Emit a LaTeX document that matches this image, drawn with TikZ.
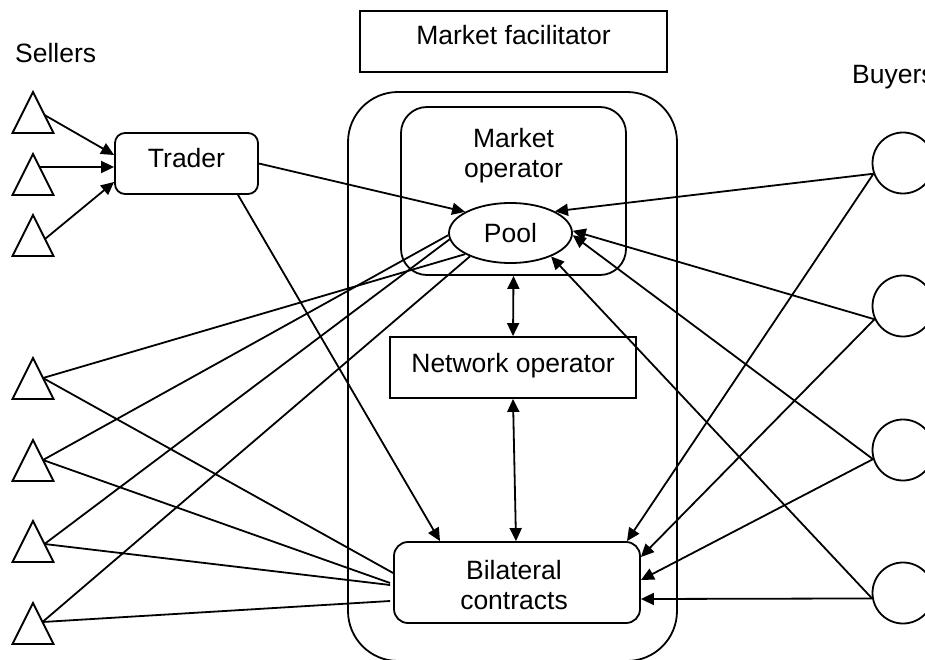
\documentclass[tikz,border=0pt]{standalone}
\usepackage{fontspec}
\setmainfont{Liberation Sans}
\usetikzlibrary{arrows.meta,shapes.geometric}
\begin{document}
\begin{tikzpicture}[x=1pt,y=-1pt,
  every node/.style={font=\fontsize{26.5pt}{30pt}\selectfont},
  ln/.style={line width=1.8pt},
  arr/.style={ln,-{Triangle[length=13pt,width=12pt]}},
  darr/.style={ln,{Triangle[length=13pt,width=12pt]}-{Triangle[length=13pt,width=12pt]}},
  box/.style={draw,line width=1.8pt,rectangle,inner sep=0pt},
  rbox/.style={box,rounded corners=#1},
  tri/.style={draw,line width=1.8pt,line join=miter},
  buyer/.style={draw,line width=1.8pt,circle,minimum size=61pt,inner sep=0pt},
  lbl/.style={inner sep=0pt}
]
\useasboundingbox (0,0) rectangle (925,660);
\clip (0,0) rectangle (925,660);

% labels
\node[lbl,anchor=base west] (sellers) at (15,63) {Sellers};
\node[lbl,anchor=base west] (buyers) at (852,84) {Buyers};

% market facilitator
\node[box,minimum width=307pt,minimum height=61pt,text height=19pt,text depth=12pt] (fac) at (513.5,41.5) {Market facilitator};
\draw[ln,rounded corners=50pt] (348,92) rectangle (677,661);

% market operator
\node[rbox=26pt,minimum width=225pt,minimum height=168pt] (mo) at (513.5,191) {};
\node[lbl,align=center] (motxt) at (513.5,156) {Market\\operator};

% pool
\node[draw,ln,ellipse,minimum width=123pt,minimum height=60pt,inner sep=0pt] (pool) at (510.5,233) {Pool};

% network operator
\node[box,minimum width=246pt,minimum height=61pt,text height=19pt,text depth=10pt] (net) at (513,367.5) {Network operator};

% bilateral contracts
\node[rbox=14pt,minimum width=246pt,minimum height=81pt] (bil) at (517,582.5) {};
\node[lbl,align=center] (biltxt) at (514,585) {Bilateral\\contracts};

% trader
\node[rbox=10pt,minimum width=143pt,minimum height=61pt,text height=19pt,text depth=10pt] (trader) at (186.5,163.5) {Trader};

% sellers (triangles)
\foreach \n/\ax/\ay/\py in {t1/33/92/115,t2/33/154/167,t3/33/215/239,l1/33/358/378,l2/33/440/460,l3/33/521/544,l4/33/603/622}{
  \draw[tri] (\ax,\ay) -- ++(-20.5,41) -- ++(41,0) -- cycle;
  \coordinate (\n) at ({\ax+(\py-\ay)*0.5},\py);
}

% buyers (circles)
\node[buyer] (b1) at (903,163) {};
\node[buyer] (b2) at (903,306) {};
\node[buyer] (b3) at (903,450) {};
\node[buyer] (b4) at (903,593) {};

% sellers -> trader
\draw[arr] (t1) -- ([yshift=8.5pt]trader.west);
\draw[arr] (t2) -- ([yshift=-3.5pt]trader.west);
\draw[arr] (t3) -- ([yshift=-18.5pt]trader.west);

% trader -> pool / bilateral
\draw[arr] (trader.east) -- (pool.155);
\draw[arr] ([xshift=51.5pt]trader.south) -- ([xshift=-77pt]bil.north);

% lower sellers
\draw[ln] (l1) -- (pool.205);
\draw[ln] (l1) -- ([yshift=9.5pt]bil.west);
\draw[ln] (l2) -- (pool.182);
\draw[ln] (l2) -- ([xshift=-3pt,yshift=-0.5pt]bil.west);
\draw[ln] (l3) -- (pool.186);
\draw[ln] (l3) -- ([xshift=-3pt,yshift=-2.5pt]bil.west);
\draw[ln] (l4) -- (pool.210);
\draw[ln] (l4) -- ([xshift=-3pt,yshift=-18.5pt]bil.west);

% buyers
\draw[arr] (b1.200) -- (pool.26);
\draw[arr] (b1.200) -- ([xshift=110pt]bil.north);
\draw[arr] (b2.205) -- (pool.2);
\draw[arr] (b2.205) -- ([yshift=25.5pt]bil.east);
\draw[arr] (b3.197) -- (pool.358);
\draw[arr] (b3.197) -- ([yshift=2.5pt]bil.east);
\draw[arr] (b4.190) -- (pool.330);
\draw[arr] (b4.190) -- ([yshift=-16.5pt]bil.east);

% operator links
\draw[darr] (mo.south) -- (net.north);
\draw[darr] (net.south) -- ([xshift=-1pt]bil.north);
\end{tikzpicture}
\end{document}
